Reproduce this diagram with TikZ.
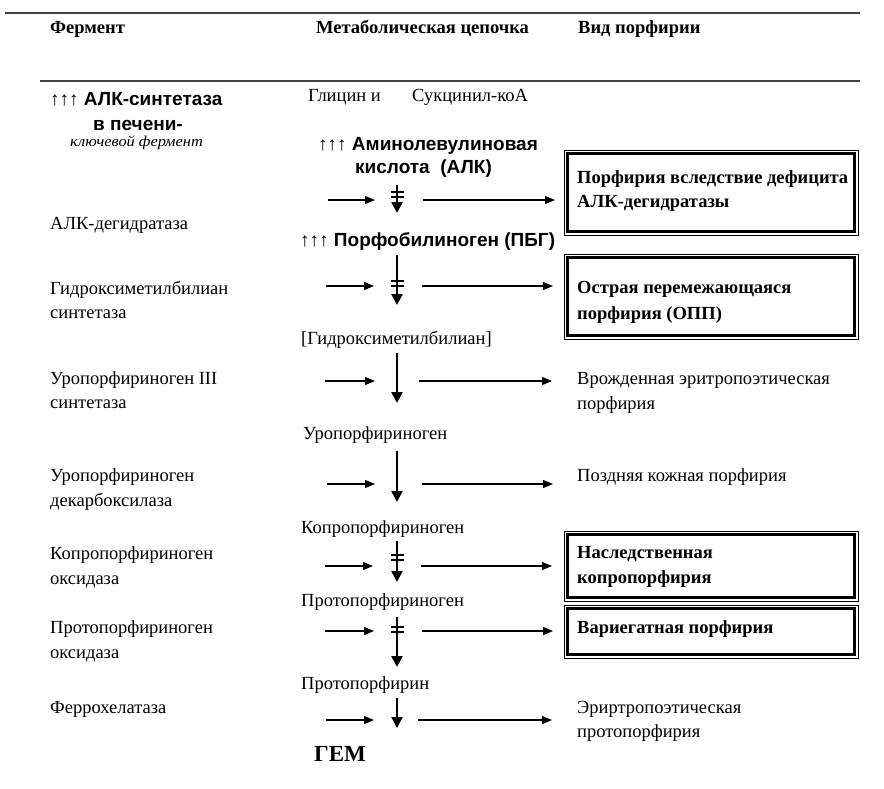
\documentclass[tikz,border=0pt]{standalone}
\usepackage{fontspec}
\setmainfont{Liberation Serif}
\newfontfamily\sansf{Liberation Sans}
\newfontfamily\wideit[FakeStretch=1.09]{Liberation Serif Italic}
\usetikzlibrary{arrows.meta}
\tikzset{
  txt/.style={anchor=base west, inner sep=0pt, font=\fontsize{18.5}{22}\selectfont},
  btxt/.style={anchor=base west, inner sep=0pt, font=\fontsize{18.5}{22}\selectfont\bfseries},
  stxt/.style={anchor=base west, inner sep=0pt, font=\fontsize{19}{22}\selectfont\sansf\bfseries},
  hdr/.style={anchor=base west, inner sep=0pt, font=\fontsize{18.5}{22}\selectfont\bfseries},
  itxt/.style={anchor=base west, inner sep=0pt, font=\fontsize{15}{18}\selectfont\wideit},
  rule/.style={line width=2pt, draw=black!75},
  harrow/.style={-{Triangle[length=10pt,width=8pt]}, line width=1.2pt},
  varrow/.style={-{Triangle[length=11pt,width=11pt]}, line width=2.4pt},
  bar/.style={line width=1.2pt},
  boxo/.style={draw, line width=0.8pt, minimum width=294pt, inner sep=0pt},
  boxi/.style={line width=2.6pt},
}
\newcommand{\uparr}{{\sansf\mdseries ↑↑↑}}
\begin{document}
\begin{tikzpicture}[x=1pt,y=-1pt]
\useasboundingbox[fill=white] (0,0) rectangle (884,788);
% rules
\coordinate (r1a) at (5,13); \coordinate (r1b) at (860,13);
\coordinate (r2a) at (40,81); \coordinate (r2b) at (860,81);
\draw[rule] (r1a) -- (r1b);
\draw[rule] (r2a) -- (r2b);
% header
\node[hdr] (h1) at (50,33) {Фермент};
\node[hdr] (h2) at (316,33) {Метаболическая цепочка};
\node[hdr] (h3) at (578,33) {Вид порфирии};
% left column
\node[stxt] (e0) at (50,105) {\uparr\ АЛК-синтетаза};
\node[stxt] (e0b) at (93,130) {в печени-};
\node[itxt] (e0c) at (70,146) {ключевой фермент};
\node[txt] (e1) at (50,229) {АЛК-дегидратаза};
\node[txt] (e2) at (50,294) {Гидроксиметилбилиан};
\node[txt] (e2b) at (50,318) {синтетаза};
\node[txt] (e3) at (50,384) {Уропорфириноген III};
\node[txt] (e3b) at (50,408) {синтетаза};
\node[txt] (e4) at (50,481) {Уропорфириноген};
\node[txt] (e4b) at (50,506) {декарбоксилаза};
\node[txt] (e5) at (50,559) {Копропорфириноген};
\node[txt] (e5b) at (50,584) {оксидаза};
\node[txt] (e6) at (50,633) {Протопорфириноген};
\node[txt] (e6b) at (50,658) {оксидаза};
\node[txt] (e7) at (50,713) {Феррохелатаза};
% middle column
\node[txt] (m0a) at (308,101) {Глицин и};
\node[txt] (m0b) at (412,101) {Сукцинил-коА};
\node[stxt] (m1) at (318,150) {\uparr\ Аминолевулиновая};
\node[stxt] (m1b) at (355,173) {кислота\ \ (АЛК)};
\node[stxt] (m2) at (300,246) {\uparr\ Порфобилиноген (ПБГ)};
\node[txt] (m3) at (301,344) {[Гидроксиметилбилиан]};
\node[txt] (m4) at (303,439) {Уропорфириноген};
\node[txt] (m5) at (301,533) {Копропорфириноген};
\node[txt] (m6) at (301,606) {Протопорфириноген};
\node[txt] (m7) at (301,689) {Протопорфирин};
\node[btxt, font=\fontsize{23}{26}\selectfont\bfseries] (m8) at (314,761) {ГЕМ};
% boxes
\node[boxo, minimum height=85pt] (b1) at (711,192.5) {};
\node[boxo, minimum height=85pt] (b2) at (711,296.5) {};
\node[boxo, minimum height=70pt] (b3) at (711,566) {};
\node[boxo, minimum height=53pt] (b4) at (711,631.5) {};
\foreach \b in {b1,b2,b3,b4}
  \draw[boxi] ([xshift=4pt,yshift=-4pt]\b.north west) rectangle ([xshift=-4pt,yshift=4pt]\b.south east);
% right column
\node[btxt] (p1) at (577,183) {Порфирия вследствие дефицита};
\node[btxt] (p1b) at (577,207) {АЛК-дегидратазы};
\node[btxt] (p2) at (577,293) {Острая перемежающаяся};
\node[btxt] (p2b) at (577,319) {порфирия (ОПП)};
\node[txt] (p3) at (577,384) {Врожденная эритропоэтическая};
\node[txt] (p3b) at (577,409) {порфирия};
\node[txt] (p4) at (577,481) {Поздняя кожная порфирия};
\node[btxt] (p5) at (577,558) {Наследственная};
\node[btxt] (p5b) at (577,583) {копропорфирия};
\node[btxt] (p6) at (577,633) {Вариегатная порфирия};
\node[txt] (p7) at (577,713) {Эриртропоэтическая};
\node[txt] (p7b) at (577,737) {протопорфирия};
% vertical arrows
\foreach \i/\t/\bt in {1/185/213, 2/255/305, 3/353/403, 4/451/502, 5/541/582, 6/617/667, 7/698/728} {
  \coordinate (v\i a) at (397,\t);
  \coordinate (v\i b) at (397,\bt);
  \draw[varrow] (v\i a) -- (v\i b);
}
% double bars (blocked steps)
\foreach \i/\ya/\yb in {1/192/197, 2/281/286, 5/555/560, 6/627/632} {
  \coordinate (k\i a) at (391,\ya); \coordinate (k\i b) at (404,\ya);
  \coordinate (k\i c) at (391,\yb); \coordinate (k\i d) at (404,\yb);
  \draw[bar] (k\i a) -- (k\i b);
  \draw[bar] (k\i c) -- (k\i d);
}
% horizontal arrows
\foreach \i/\y/\la/\lb/\ra/\rb in {1/200/328/375/423/555, 2/286/326/374/422/553, 3/381/325/375/419/552, 4/484/327/375/422/553, 5/566/325/373/421/552, 6/631/325/374/422/553, 7/720/326/374/418/552} {
  \coordinate (l\i a) at (\la,\y); \coordinate (l\i b) at (\lb,\y);
  \coordinate (q\i a) at (\ra,\y); \coordinate (q\i b) at (\rb,\y);
  \draw[harrow] (l\i a) -- (l\i b);
  \draw[harrow] (q\i a) -- (q\i b);
}
\end{tikzpicture}
\end{document}
